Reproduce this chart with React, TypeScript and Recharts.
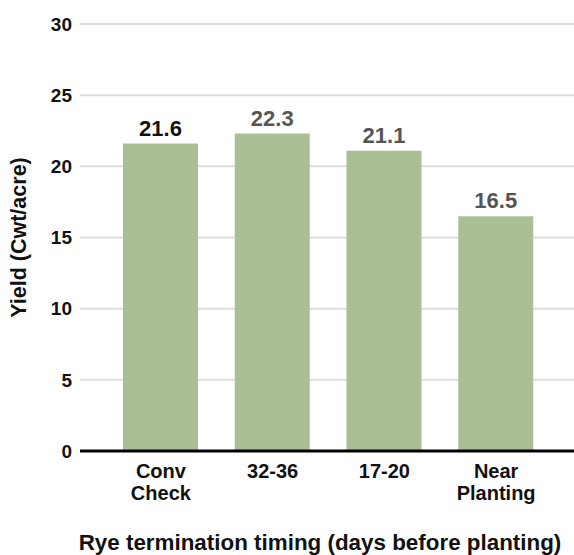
import { Bar, BarChart, CartesianGrid, LabelList, XAxis, YAxis } from "recharts";

const categories = ["Conv Check", "32-36", "17-20", "Near Planting"];
const yieldValues = [21.6, 22.3, 21.1, 16.5];
const yTicks = [0, 5, 10, 15, 20, 25, 30];

const xTitle = "Rye termination timing (days before planting)";
const yTitle = "Yield (Cwt/acre)";

const font = "'Liberation Sans', Arial, Helvetica, sans-serif";

const chartData = categories.map((name, i) => ({ name, value: yieldValues[i] }));

function CategoryTick({ x, y, payload }: any) {
  const lines = String(payload.value).split(" ");
  return (
    <text x={x} y={y} textAnchor="middle" fontFamily={font} fontWeight="bold" fontSize={20} fill="#111">
      {lines.map((line, i) => (
        <tspan key={i} x={x} dy={i === 0 ? 19 : 22}>
          {line}
        </tspan>
      ))}
    </text>
  );
}

function ValueLabel({ x, y, width, value, index }: any) {
  return (
    <text
      x={x + width / 2}
      y={y - 8}
      textAnchor="middle"
      fontFamily={font}
      fontWeight="bold"
      fontSize={22}
      fill={index === 0 ? "#111" : "#555"}
    >
      {value}
    </text>
  );
}

export default function App() {
  return (
    <div style={{ position: "absolute", left: 0, top: 0, background: "#fff" }}>
      <BarChart width={574} height={555} data={chartData} margin={{ top: 24, right: 0, bottom: 0, left: 0 }}>
        <CartesianGrid vertical={false} stroke="#dddddd" strokeWidth={2} />
        <XAxis
          dataKey="name"
          height={104}
          padding={{ left: 25, right: 22 }}
          tickLine={false}
          axisLine={{ stroke: "#000", strokeWidth: 3 }}
          tick={<CategoryTick />}
          interval={0}
          label={{
            content: ({ viewBox }: any) => (
              <text
                x={viewBox.x + viewBox.width / 2 - 7}
                y={550}
                textAnchor="middle"
                fontFamily={font}
                fontWeight="bold"
                fontSize={22.4}
                fill="#111"
              >
                {xTitle}
              </text>
            ),
          }}
        />
        <YAxis
          width={80}
          domain={[0, 30]}
          ticks={yTicks}
          tickLine={false}
          axisLine={false}
          tick={{ fontFamily: font, fontWeight: "bold", fontSize: 19, fill: "#111" }}
          label={{
            content: ({ viewBox }: any) => {
              const cy = viewBox.y + viewBox.height / 2;
              return (
                <text
                  x={19}
                  y={cy}
                  transform={`rotate(-90, 19, ${cy})`}
                  textAnchor="middle"
                  dominantBaseline="central"
                  fontFamily={font}
                  fontWeight="bold"
                  fontSize={21.5}
                  fill="#111"
                >
                  {yTitle}
                </text>
              );
            },
          }}
        />
        <Bar dataKey="value" fill="#abbf94" barSize={75} isAnimationActive={false}>
          <LabelList dataKey="value" content={<ValueLabel />} />
        </Bar>
      </BarChart>
    </div>
  );
}
